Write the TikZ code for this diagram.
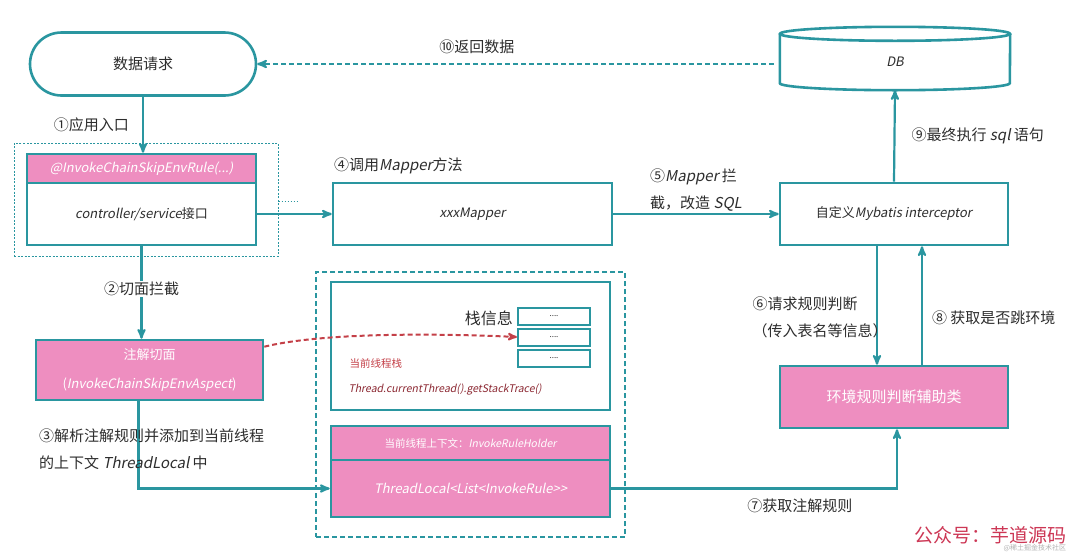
\documentclass[tikz,border=0pt]{standalone}
\usepackage{fontspec}
\setmainfont{Noto Sans CJK SC}[AutoFakeSlant=0.2]
\usetikzlibrary{arrows,shapes.misc,positioning}

\definecolor{tealline}{RGB}{42,150,160}
\definecolor{pinkfill}{RGB}{238,142,192}
\definecolor{inkgray}{RGB}{45,45,45}
\definecolor{redline}{RGB}{196,64,72}
\definecolor{darkred}{RGB}{140,40,50}
\definecolor{wmred}{RGB}{205,55,85}

\begin{document}
\begin{tikzpicture}[x=1pt,y=-1pt,>=stealth',
    flow line/.style={draw=tealline,line width=2.2pt,->},
    red line/.style={draw=redline,line width=2pt,->,dash pattern=on 5pt off 3pt},
    box node/.style={rectangle,draw=tealline,line width=2.6pt,fill=white,
      text=inkgray,font=\fontsize{13}{16}\selectfont,inner sep=2pt},
    pink node/.style={box node,fill=pinkfill,text=white},
    cell node/.style={box node,line width=2pt,minimum width=72pt,
      minimum height=17pt,font=\fontsize{8}{9}\selectfont},
    label node/.style={text=inkgray,font=\fontsize{15}{27}\selectfont,inner sep=1pt}]

    \fill[white] (0,0) rectangle (1080,555);
    \useasboundingbox (0,0) rectangle (1080,555);

    \node[box node,rounded rectangle,minimum width=230pt,minimum height=63pt,
      font=\fontsize{15}{16}\selectfont] (req) at (143,64) {数据请求};
    \node[draw=tealline,line width=1pt,dash pattern=on 2pt off 1.5pt,
      minimum width=264pt,minimum height=113pt] (ctlouter) at (146,199.5) {};
    \node[pink node,minimum width=229pt,minimum height=29pt,
      font=\fontsize{13}{16}\selectfont\itshape] (anno) at (141.5,168.5) {@InvokeChainSkipEnvRule(...)};
    \node[box node,minimum width=229pt,minimum height=62pt] (ctl) at (141.5,214) {{\itshape controller/service}接口};
    \node[box node,minimum width=279pt,minimum height=62pt] (mapper) at (472.5,214) {\itshape xxxMapper};
    \node[box node,minimum width=228pt,minimum height=62pt] (icpt) at (894,214) {自定义{\itshape Mybatis interceptor}};
    \node[minimum width=230pt,minimum height=56pt,text=inkgray,
      font=\fontsize{13}{16}\selectfont\itshape] (db) at (895,62) {DB};
    \draw[draw=tealline,line width=2.6pt] (db.north west) -- ([yshift=7pt]db.south west)
      arc[start angle=180,end angle=360,x radius=115pt,y radius=7pt] -- (db.north east);
    \draw[draw=tealline,line width=2.6pt] (db.north) ellipse[x radius=115pt,y radius=7pt];

    \node[pink node,minimum width=227pt,minimum height=60pt,align=center,
      font=\fontsize{13}{29}\selectfont] (aspect) at (149.5,370) {注解切面\\({\itshape InvokeChainSkipEnvAspect})};

    \node[draw=tealline,line width=2.2pt,dash pattern=on 5pt off 3pt,
      minimum width=309pt,minimum height=265pt] (threadbox) at (470.5,404.5) {};
    \node[box node,minimum width=279pt,minimum height=128pt] (stack) at (470.5,346) {};
    \node[cell node] (cell1) at (554,316) {....};
    \node[cell node] (cell2) at (554,337) {....};
    \node[cell node] (cell3) at (554,358) {....};
    \node[label node,font=\fontsize{16}{18}\selectfont,anchor=east] (stacklbl) at (514,318) {栈信息};
    \node[text=redline,font=\fontsize{10.5}{12}\selectfont,anchor=west] (curlbl) at (346,363) {当前线程栈};
    \node[text=darkred,font=\fontsize{10.5}{12}\selectfont\itshape,anchor=west] (tracelbl) at (345,390) {Thread.currentThread().getStackTrace()};
    \node[pink node,minimum width=279pt,minimum height=34pt,
      font=\fontsize{10.5}{12}\selectfont] (holder) at (470.5,443) {当前线程上下文：{\itshape InvokeRuleHolder}};
    \node[pink node,minimum width=279pt,minimum height=57pt,
      font=\fontsize{13}{16}\selectfont\itshape] (tl) at (470.5,488.5) {ThreadLocal<List<InvokeRule>{}>};

    \node[pink node,minimum width=228pt,minimum height=62pt,
      font=\fontsize{15}{16}\selectfont] (helper) at (894,397) {环境规则判断辅助类};

    \draw[flow line] (req.south) -- node[label node,left=12pt] {①应用入口} (req.south |- anno.north);
    \draw[flow line] (ctl.east) -- (mapper.west);
    \draw[draw=tealline,line width=1pt,dotted] ([yshift=-1.5pt]ctlouter.east) -- ++(20,0);
    \node[label node,anchor=south west] (lbl4) at (333,175) {④调用{\itshape Mapper}方法};
    \draw[flow line] (mapper.east) -- node[label node,above=1pt,align=left] {⑤{\itshape Mapper} 拦\\截，改造 {\itshape SQL}} (icpt.west);
    \draw[flow line] (icpt.north) -- node[label node,right=15pt] {⑨最终执行 {\itshape sql} 语句} (db.south);
    \draw[flow line,dash pattern=on 5pt off 3pt,shorten <=6pt] (db.west |- req.east) -- node[label node,above=8pt,pos=0.58] {⑩返回数据} (req.east);
    \draw[flow line] (ctl.south) -- node[label node,fill=white,pos=0.46] {②切面拦截} (ctl.south |- aspect.north);
    \draw[flow line] ([xshift=-11pt]aspect.south) |- (tl.west);
    \node[label node,align=left,anchor=west] (lbl3) at (38,449.5) {③解析注解规则并添加到当前线程\\的上下文 {\itshape ThreadLocal} 中};
    \draw[red line] ([yshift=-8pt]aspect.north east) .. controls (320,333) and (430,333) .. (cell2.west);
    \draw[flow line] (tl.east) -| node[label node,below=8pt,pos=0.33] {⑦获取注解规则} ([xshift=3pt]helper.south);
    \draw[flow line] ([xshift=-17pt]icpt.south) -- ([xshift=-17pt]helper.north);
    \node[label node,align=left] (lbl6) at (820,317) {⑥请求规则判断\\（传入表名等信息）};
    \draw[flow line] ([xshift=28pt]helper.north) -- node[label node,right=8pt,pos=0.4] {⑧ 获取是否跳环境} ([xshift=28pt]icpt.south);

    \node[text=wmred,font=\fontsize{19}{20}\selectfont] (wm) at (990,535) {公众号：芋道源码};
    \node[text=gray!60,font=\fontsize{7}{8}\selectfont,anchor=west] (wmsmall) at (1000,548) {@稀土掘金技术社区};
  \end{tikzpicture}
\end{document}
